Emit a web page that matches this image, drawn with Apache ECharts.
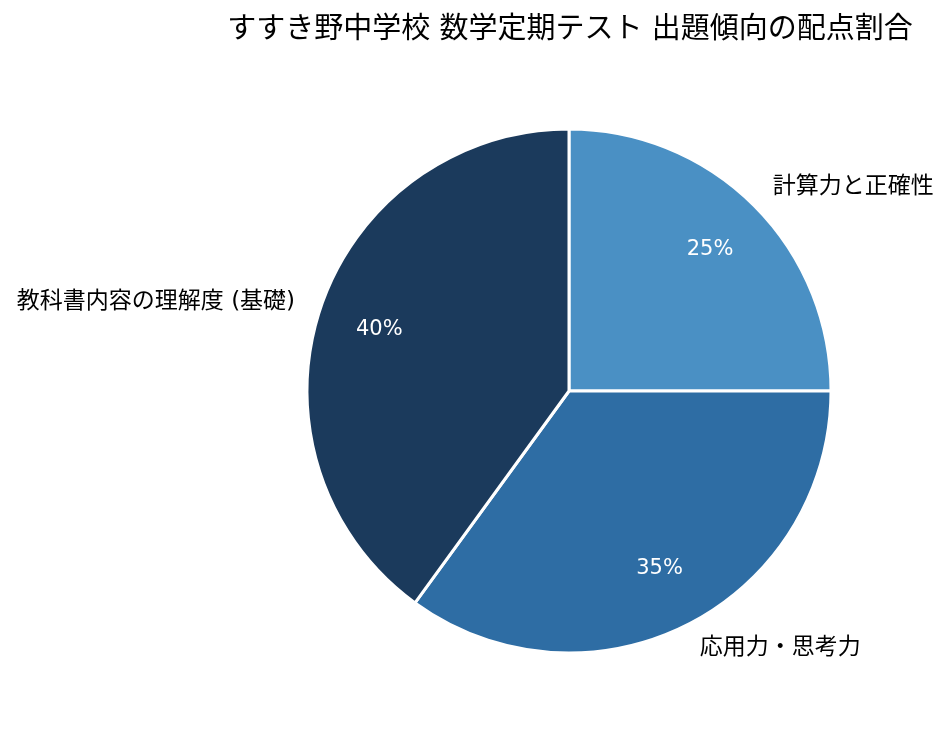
<!DOCTYPE html>
<html>
<head>
<meta charset="utf-8">
<script src="https://cdn.jsdelivr.net/npm/echarts@6/dist/echarts.min.js"></script>
<style>
  html, body { margin: 0; padding: 0; background: #fff; }
  #chart { width: 949px; height: 735px; }
</style>
</head>
<body>
<div id="chart"></div>
<script>
// データ
var titleText = "すすき野中学校 数学定期テスト 出題傾向の配点割合";
var categories = ["計算力と正確性", "応用力・思考力", "教科書内容の理解度 (基礎)"];
var values = [25, 35, 40];
var colors = ["#4a90c4", "#2e6da4", "#1b3a5c"];

var fontFamily = '"DejaVu Sans", "Noto Sans CJK JP", sans-serif';
var R = 262;
var center = [569, 391];

var slices = [];
var ring = [];
for (var i = 0; i < categories.length; i++) {
    slices.push({ name: categories[i], value: values[i], itemStyle: { color: colors[i] } });
    ring.push({ name: categories[i], value: values[i] });
}

var chart = echarts.init(document.getElementById("chart"));
var option = {
    backgroundColor: "#ffffff",
    animation: false,
    title: {
        text: titleText,
        left: 565,
        top: 11,
        textAlign: "center",
        textStyle: { fontFamily: fontFamily, fontSize: 29, fontWeight: "normal", color: "#000" }
    },
    series: [{
        // 扇形と外側ラベル
        type: "pie",
        center: center,
        radius: R,
        startAngle: 90,
        clockwise: true,
        avoidLabelOverlap: false,
        itemStyle: { borderColor: "#fff", borderWidth: 3 },
        label: {
            show: true,
            position: "outside",
            distanceToLabelLine: 0,
            fontFamily: fontFamily,
            fontSize: 23,
            color: "#000",
            formatter: "{b}"
        },
        labelLine: { show: false, length: 26, length2: 0 },
        emphasis: { disabled: true },
        data: slices
    }, {
        // 内側のパーセント表示 (半径0.75の位置)
        type: "pie",
        center: center,
        radius: [R * 0.5, R],
        startAngle: 90,
        clockwise: true,
        silent: true,
        itemStyle: { color: "rgba(0,0,0,0)" },
        label: {
            show: true,
            position: "inside",
            fontFamily: fontFamily,
            fontSize: 21,
            color: "#fff",
            formatter: function (p) { return p.value + "%"; }
        },
        labelLine: { show: false },
        emphasis: { disabled: true },
        data: ring
    }]
};
chart.setOption(option);
</script>
</body>
</html>
